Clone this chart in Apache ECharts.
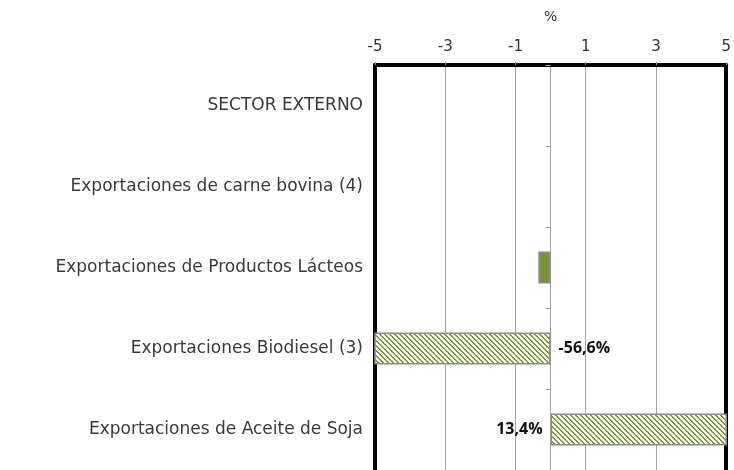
<!DOCTYPE html>
<html>
<head>
<meta charset="utf-8">
<script src="https://cdn.jsdelivr.net/npm/echarts@6/dist/echarts.min.js"></script>
<style>
  html, body { margin: 0; padding: 0; background: #fff; }
  #chart { width: 734px; height: 470px; }
</style>
</head>
<body>
<div id="chart"></div>
<script>
// categorías (de arriba hacia abajo)
const categories = [
  'SECTOR EXTERNO',
  'Exportaciones de carne bovina (4)',
  'Exportaciones de Productos Lácteos',
  'Exportaciones Biodiesel (3)',
  'Exportaciones de Aceite de Soja'
]
// variación en %, null = sin barra
const values = [null, null, -0.35, -56.6, 13.4]
// barras rayadas (fuera de escala) y etiquetas
const hatched = [false, false, false, true, true]
const labels = ['', '', '', '-56,6%', '13,4%']
// eje superior
const axisMin = -5
const axisMax = 5
const axisStep = 2

const green = '#77933c'

/* patrón rayado para las barras fuera de escala */
const P = 5
const hatch = document.createElement('canvas')
hatch.width = P
hatch.height = P
const hc = hatch.getContext('2d')
hc.fillStyle = '#fff'
hc.fillRect(0, 0, P, P)
hc.fillStyle = '#7a9c38'
// diagonal "\" píxel a píxel, 2 px de ancho
for (let i = 0; i < P; i++) {
  hc.fillRect(i, i, 1, 1)
  hc.fillRect((i + 1) % P, i, 1, 1)
}

const chart = echarts.init(document.getElementById('chart'))

const barData = values.map((v, i) => ({
  value: v,
  itemStyle: {
    color: hatched[i] ? { image: hatch, repeat: 'repeat' } : green,
    borderColor: '#8c8c8c',
    borderWidth: 1.5
  },
  label: {
    show: labels[i] !== '',
    position: v < 0 ? 'right' : 'left',
    formatter: labels[i]
  }
}))

chart.setOption({
  animation: false,
  grid: { left: 375, right: 7, top: 65, bottom: 0 },
  xAxis: [
    {
      // eje de las barras (oculto)
      type: 'value',
      position: 'top',
      min: axisMin,
      max: axisMax,
      interval: 5,
      axisLine: { show: false },
      axisTick: { show: false },
      axisLabel: { show: false },
      splitLine: { show: true, lineStyle: { color: '#a6a6a6', width: 1 } }
    },
    {
      // eje visible: -5 ... 5 cada 2
      type: 'value',
      position: 'top',
      min: 0,
      max: axisMax - axisMin,
      interval: axisStep,
      name: '%',
      nameLocation: 'middle',
      nameGap: 41,
      nameTextStyle: { fontFamily: 'DejaVu Sans', fontSize: 14, color: '#333' },
      axisLine: { show: true, lineStyle: { color: '#000', width: 4 } },
      axisTick: { show: true, length: 3, lineStyle: { color: '#999' } },
      axisLabel: {
        margin: 10,
        formatter: v => String(v + axisMin),
        fontFamily: 'DejaVu Sans',
        fontSize: 15,
        color: '#333'
      },
      splitLine: { show: true, lineStyle: { color: '#a6a6a6', width: 1 } }
    }
  ],
  yAxis: [
    {
      type: 'category',
      inverse: true,
      data: categories,
      position: 'left',
      axisLine: { show: true, onZero: false, lineStyle: { color: '#000', width: 4 } },
      axisTick: { show: false },
      axisLabel: {
        margin: 12,
        fontFamily: 'DejaVu Sans',
        fontSize: 17,
        color: '#3a3a3a'
      }
    },
    {
      // línea del cero
      type: 'category',
      inverse: true,
      data: categories,
      position: 'left',
      axisLine: { show: true, onZero: true, onZeroAxisIndex: 0, lineStyle: { color: '#a6a6a6', width: 1 } },
      axisTick: { show: true, length: 5, lineStyle: { color: '#a6a6a6' } },
      axisLabel: { show: false }
    },
    {
      type: 'category',
      inverse: true,
      data: categories,
      position: 'right',
      axisLine: { show: true, onZero: false, lineStyle: { color: '#000', width: 4 } },
      axisTick: { show: false },
      axisLabel: { show: false }
    }
  ],
  series: [
    {
      type: 'bar',
      xAxisIndex: 0,
      yAxisIndex: 0,
      barWidth: 32,
      data: barData,
      label: {
        distance: 8,
        fontFamily: 'Open Sans',
        fontWeight: 'bold',
        fontSize: 16,
        color: '#111'
      }
    }
  ]
})
</script>
</body>
</html>
